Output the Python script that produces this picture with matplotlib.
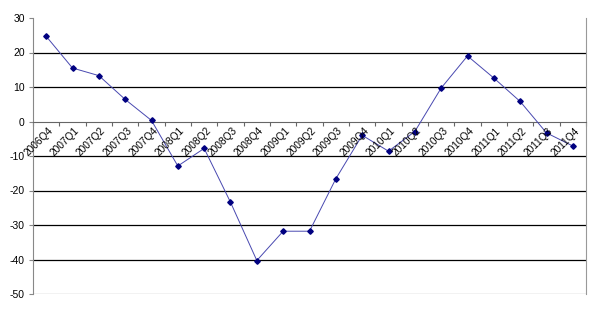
import matplotlib
matplotlib.use('Agg')
import matplotlib.pyplot as plt
import numpy as np

plt.rcParams['font.family'] = ['Liberation Sans', 'DejaVu Sans']

# 季度标签
quarters = ['2006Q4', '2007Q1', '2007Q2', '2007Q3', '2007Q4',
            '2008Q1', '2008Q2', '2008Q3', '2008Q4',
            '2009Q1', '2009Q2', '2009Q3', '2009Q4',
            '2010Q1', '2010Q2', '2010Q3', '2010Q4',
            '2011Q1', '2011Q2', '2011Q3', '2011Q4']
# 数值
values = [24.7, 15.5, 13.3, 6.4, 0.3,
          -12.9, -7.8, -23.4, -40.3,
          -31.8, -31.8, -16.6, -4.0,
          -8.6, -2.9, 9.7, 19.0,
          12.6, 5.8, -3.3, -7.1]
y_ticks = [30, 20, 10, 0, -10, -20, -30, -40, -50]

fig = plt.figure(figsize=(5.97, 3.13), dpi=100)
ax = fig.add_axes([33 / 597, 19 / 313, 553 / 597, 276 / 313])

x = np.arange(len(quarters))
ax.plot(x, values, color='#4848b0', linewidth=0.7, zorder=3)
ax.plot(x, values, linestyle='none', marker='D', markersize=2.8,
        markerfacecolor='#000080', markeredgecolor='#000080', zorder=4)

ax.set_xlim(-0.5, len(quarters) - 0.5)
ax.set_ylim(-50, 30)

# 网格线
for v in y_ticks:
    if v in (30, -50, 0):
        continue
    ax.axhline(v, color='black', linewidth=0.9, zorder=1)
ax.axhline(-50, color='#999999', linewidth=0.9, zorder=1)

ax.spines['top'].set_visible(False)
ax.spines['left'].set_color('#888888')
ax.spines['right'].set_color('#999999')
ax.spines['bottom'].set_position(('data', 0))
ax.spines['bottom'].set_color('#666666')

ax.set_yticks(y_ticks)
ax.set_yticklabels([str(v) for v in y_ticks], fontsize=7.5)
ax.tick_params(axis='y', length=3, color='#888888', pad=3)

ax.set_xticks(np.arange(len(quarters) + 1) - 0.5)
ax.set_xticklabels([])
ax.tick_params(axis='x', length=3, direction='out', color='#666666')

for i, q in enumerate(quarters):
    ax.text(i + 0.05, -1.2, q, rotation=45, ha='right', va='top', fontsize=7.3,
            rotation_mode='anchor', zorder=5)

fig.savefig('out.png', dpi=100)
